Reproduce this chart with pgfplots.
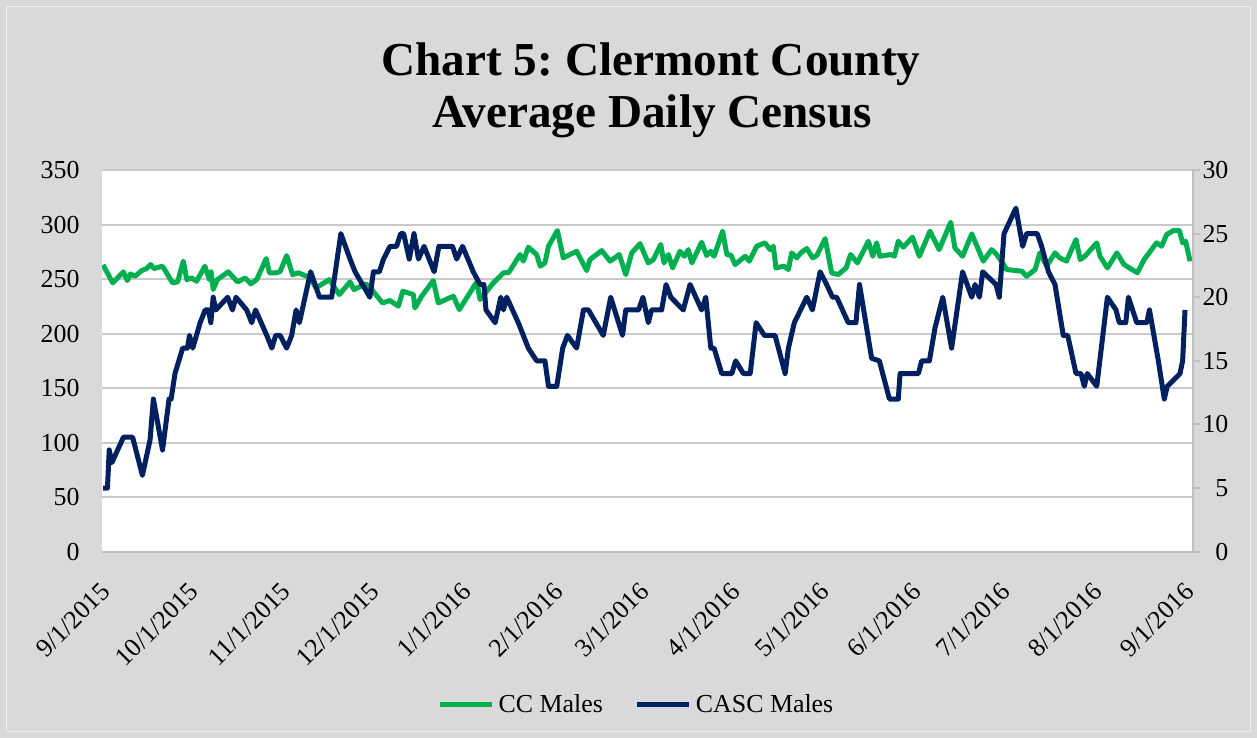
\documentclass[border=0pt]{standalone}
\usepackage{pgfplots}
\pgfplotsset{compat=1.18}
\usepackage{fontspec}
\setmainfont{Liberation Serif}
\frenchspacing
\definecolor{bg}{HTML}{D9D9D9}
\definecolor{gridc}{HTML}{CACACA}
\definecolor{axc}{HTML}{BFBFBF}
\definecolor{ccgreen}{HTML}{00B050}
\definecolor{cascnavy}{HTML}{002060}

\pgfplotstableread{
day v
0 263
3.3 246.5
6.9 256.6
8.2 248.6
9.3 254.7
10.8 252.6
13.1 257.8
14.7 259.6
16.1 263.3
17.2 259.6
20.1 261.8
23.5 246.5
25.2 247.4
27.1 266.4
28.3 249.5
29.9 251
31.6 248
34.4 261.8
35.9 249.5
36.5 256.6
37.2 240.4
38.6 249.5
42.3 256.6
45.4 247.4
48 251
49.9 245.6
51.9 249.5
55.1 268.8
56.2 255.7
58.4 255.7
59.8 257
62 271.5
64 254.1
66 255.7
68.2 253.2
69.9 251.7
71.9 241.9
76.4 249.5
79.8 235.8
83.4 247.4
84.7 240.4
88.8 245.6
90.7 240.4
94.4 228.1
96.9 230.3
99.7 225.1
101.2 238.8
104.8 235.8
105.3 223.5
107.6 234.3
111.5 248.6
113.2 228.1
118.3 234.3
120.3 222
126.2 247.4
127.3 231.2
131.8 246.5
135.2 255.7
137 256
140.8 272.5
141.9 266.4
143.6 279.2
146.4 272.5
147.6 261.8
149.2 264.8
150.4 280.1
153.4 294.5
155.4 269.4
159.9 275.5
163.3 257.8
164.4 267.9
168.4 276.1
171.2 266.4
174.3 272.5
176.5 254.1
178.5 274
181.3 282.5
184.1 264.8
185.8 267.9
188.3 281.7
189.4 264.8
190.9 272.5
192.3 260.2
194.8 275.5
196.3 270.9
197.6 277
198.8 264.8
202.1 283.8
203.8 271.6
205.2 275.5
206.3 270.9
209.2 293.9
210.6 272.5
212 272
213.4 263.3
216.8 270.9
218.2 266.4
220.7 280.1
223.5 283.2
225.2 277
226.3 280.1
227.2 260.2
229.9 261.8
231.4 258.7
232.5 274
234.2 269.4
235.6 274
237.6 278
239.6 269.4
241 271.6
243.8 287
246 255.7
248.2 254.1
250.9 260.2
252.4 272.5
254.7 264.8
258.4 284.7
259.9 270.9
261.2 283.2
262.3 270.9
266 272.5
267.2 271
268.5 284.7
270.2 279.2
273.3 288.4
275.6 270.9
279.2 293.9
282.3 277
286.2 302.1
287.6 278.6
290.2 270.9
293.3 291.4
297.2 266.4
300 277
301.7 272.5
303.4 266
305.1 258.7
310.2 257.2
311.8 252.6
314.7 258.7
316.3 274
318.6 261.8
321.4 274
323 269.4
325.3 266.4
328.5 286.2
329.9 267.9
331.5 270.9
335.5 283.2
336.6 270.9
339.1 260.2
342.3 274
344.7 263.3
349.2 255.7
351.5 267.9
355.7 283.2
357.4 280.1
359.1 290.8
361.4 294.5
363.4 294.5
364.5 283.2
365.5 284.7
367 266.4
}\ccdata

\pgfplotstableread{
day v
0 5
1.5 5
2.1 8
3 7
6.9 9
10 9
13.3 6
15.9 8.8
17 12
20.1 8
22.3 12
23 12
24.3 14
26.9 16
28.5 16
29.2 17
30.3 16
32.8 18
34.5 19
35.6 19
36.4 18
37.2 20
38.1 19
42.1 20
43.7 19
44.9 20
48.5 19
50.2 18
51.5 19
55.3 17
57 16
58.3 17
59.8 17
62 16
63.7 17
65.2 19
66.3 18
70.1 22
73.1 20
77.2 20
80.3 25
83.4 23
85.1 22
90.1 20
91.3 22
93.3 22
94.7 23
96.9 24
99.1 24
100.5 25
101.5 25
103.4 23
105 25
106.5 23
108.4 24
111.8 22
113.4 24
118 24
119.4 23
121.4 24
125 22
127.3 21
128.6 21
129.3 19
132.4 18
134.3 20
135.2 19
136.3 20
140.2 18
143.6 16
146.4 15
149.2 15
150.4 13
153.2 13
155.2 16
156.8 17
159.9 16
162.2 19
163.9 19
168.9 17
171.4 20
175.4 17
176.5 19
180.8 19
182.3 20
184.1 18
185.2 19
188.6 19
190.1 21
191.7 20
195.9 19
198.2 21
202.1 19
203.5 20
205.2 16
206.3 16
208.9 14
212.3 14
213.6 15
216.2 14
218.5 14
220.5 18
223.3 17
226.9 17
230.3 14
231.4 16
233.4 18
237.6 20
239.5 19
242.1 22
244.3 21
246.3 20
247.7 20
251.6 18
254.2 18
255.4 21
259.5 15.2
262.1 15
265.5 12
268.5 12
269.1 14
275.3 14
276.4 15
279 15
280.9 17.6
283.5 20
286.5 16
290.2 22
293.3 20
294.4 21
295.9 20
297 22
301.5 21
302.6 20
304.2 25
308.2 27
310.5 24
311.8 25
315.4 25
316.9 24
319.2 22
321.4 21
324.2 17
325.7 17
328.5 14
330.2 14
331.3 13
332.3 14
335.5 13
339.1 20
342 19
343.1 18
345.3 18
346.2 20
349 18
352.4 18
353.3 19
356.3 15
358.3 12
359.3 13
363.6 14
364.5 15
365.3 19
}\cascdata

\begin{document}
\begin{tikzpicture}
\fill[bg] (0,0) rectangle (628.5bp,369bp);
\draw[white!60!bg, line width=0.6bp] (3.2bp,3.2bp) rectangle (625.3bp,365.8bp);
\fill[white] (51bp,93.15bp) rectangle (596.5bp,284bp);
\node[anchor=base, font=\fontsize{23.7}{28}\selectfont\bfseries] at (325.5bp,331bp) {Chart 5: Clermont County};
\node[anchor=base, font=\fontsize{23.7}{28}\selectfont\bfseries] at (326bp,305bp) {Average Daily Census};

\begin{axis}[
  at={(51bp,93.15bp)}, anchor=south west,
  scale only axis, width=545.5bp, height=190.85bp,
  xmin=-0.34, xmax=368, ymin=0, ymax=350,
  ytick={0,50,...,350},
  xtick={0,30,61,91,122,153,182,213,243,274,304,335,366},
  xticklabels={9/1/2015,10/1/2015,11/1/2015,12/1/2015,1/1/2016,2/1/2016,3/1/2016,4/1/2016,5/1/2016,6/1/2016,7/1/2016,8/1/2016,9/1/2016},
  axis x line*=bottom, axis y line*=left,
  x axis line style={draw=axc, line width=1bp, -},
  y axis line style={draw=none},
  major tick length=0pt,
  tick style={draw=none},
  ymajorgrids, grid style={draw=gridc, line width=1bp},
  /pgf/number format/assume math mode=true,
  ticklabel style={font=\fontsize{13}{15}\selectfont},
  yticklabel style={anchor=east, inner sep=0pt, xshift=-11bp},
  xticklabel style={inner sep=0pt, anchor=north east, xshift=-2bp, yshift=-14.5bp, rotate=45},
]
\addplot[ccgreen, line width=2.5bp, line join=round] table[x=day, y=v] {\ccdata};
\end{axis}

\begin{axis}[
  at={(51bp,93.15bp)}, anchor=south west,
  scale only axis, width=545.5bp, height=190.85bp,
  xmin=-0.34, xmax=368, ymin=0, ymax=30,
  ytick={0,5,...,30},
  axis x line=none, axis y line*=right,
  y axis line style={draw=axc, line width=1bp, -},
  tick align=outside, major tick length=3.5bp,
  ytick style={draw=axc, line width=1bp},
  /pgf/number format/assume math mode=true,
  ticklabel style={font=\fontsize{13}{15}\selectfont},
  yticklabel style={anchor=west, inner sep=0pt, text width=14bp, align=right, xshift=0bp},
  legend style={draw=none, fill=none, at={(0.4908,-0.4016)}, anchor=center, legend columns=-1,
    font=\fontsize{13}{15}\selectfont, inner sep=0pt,
    /tikz/every even column/.append style={column sep=14bp}},
  legend image code/.code={\draw[#1] (0bp,0bp) -- (26bp,0bp);},
]
\addlegendimage{ccgreen, line width=2.5bp}
\addlegendentry{CC Males}
\addplot[cascnavy, line width=2.5bp, line join=round] table[x=day, y=v] {\cascdata};
\addlegendentry{CASC Males}
\end{axis}
\end{tikzpicture}
\end{document}
